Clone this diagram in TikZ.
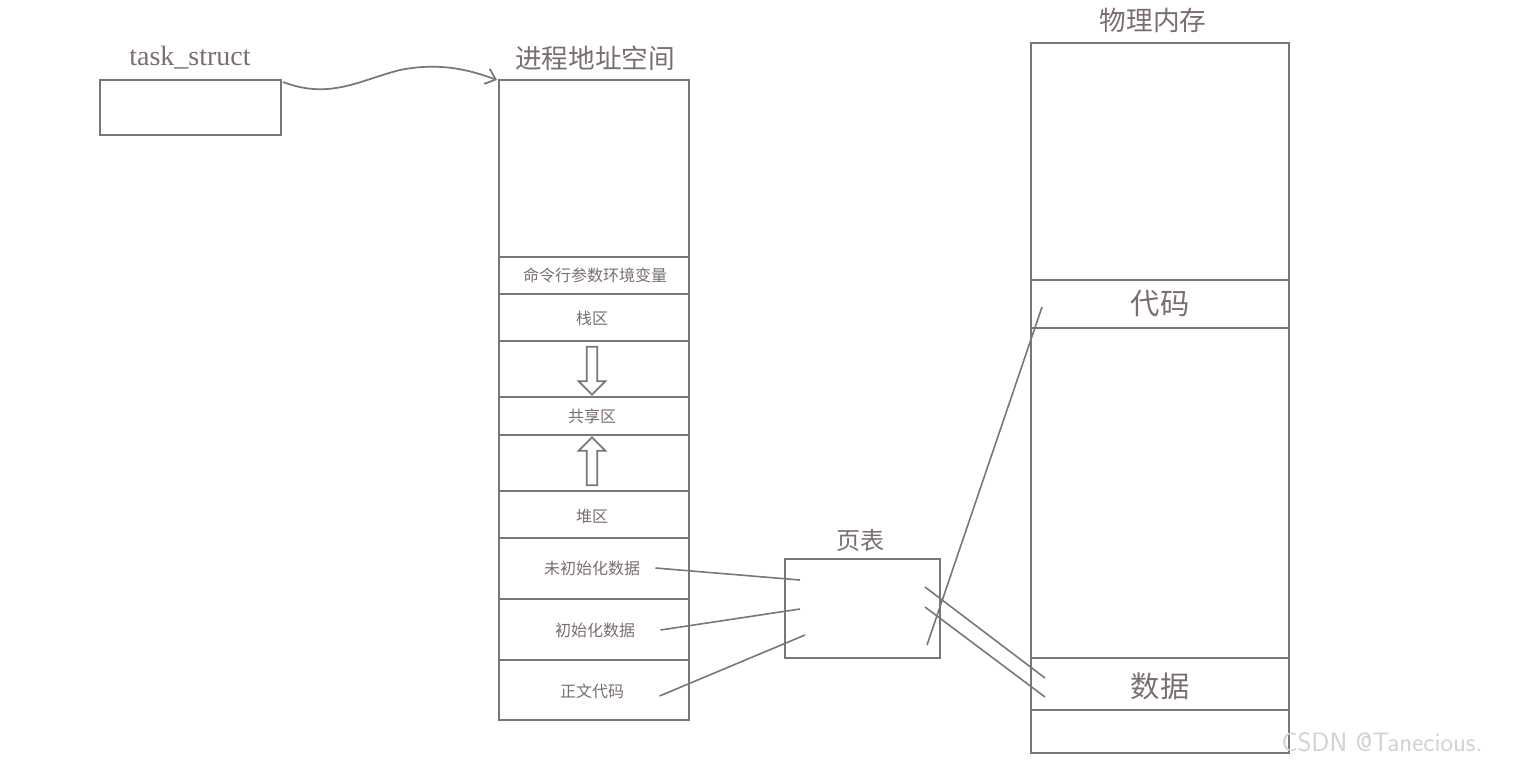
\documentclass[tikz,border=0pt]{standalone}
\usepackage{fontspec}
\newfontfamily\cjk{Noto Sans CJK SC}
\setmainfont{Liberation Serif}
\usetikzlibrary{arrows.meta,shapes.arrows}
\definecolor{ln}{HTML}{777777}
\definecolor{tx}{HTML}{7A6E6E}
\begin{document}
\begin{tikzpicture}[x=0.75pt,y=-0.75pt,line width=1.6pt,
  bx/.style={draw=ln},
  lbl/.style={text=tx,font=\cjk\fontsize{12}{12}\selectfont},
  big/.style={text=tx,font=\cjk\fontsize{20}{20}\selectfont},
  lk/.style={draw=ln,line width=1.2pt},
  harrow/.style={draw=ln,line width=1.3pt,fill=white,single arrow,minimum height=36pt,single arrow head extend=4pt,minimum width=20pt,inner sep=2pt}]
\useasboundingbox (0,0) rectangle (1513,768);
% task_struct
\node[text=tx,font=\fontsize{21}{21}\selectfont] (tsl) at (190,58) {task\_struct};
\node[bx,minimum width=136pt,minimum height=41pt,inner sep=0] (ts) at (190.5,107.5) {};
\coordinate (tsa) at (283,82);
\coordinate (vaa) at (497,80);
\draw[ln,line width=1.3pt,-{Straight Barb[length=7pt,width=12pt]}] (tsa) .. controls (330,100) and (360,80) .. (400,70) .. controls (440,62) and (470,70) .. (vaa);
% virtual space
\node[big] (vat) at (595,58) {进程地址空间};
\draw[ln] (499,80) rectangle (689,720);
\foreach \y in {257,294,341,397,435,491,538,599,660} \draw[ln] (499,\y) -- (689,\y);
\node[lbl] (a1) at (595,275) {命令行参数环境变量};
\node[lbl] (a2) at (592,318) {栈区};
\node[lbl] (a3) at (592,416) {共享区};
\node[lbl] (a4) at (592,516) {堆区};
\node[lbl] (a5) at (592,568) {未初始化数据};
\node[lbl] (a6) at (595,630) {初始化数据};
\node[lbl] (a7) at (592,691) {正文代码};
\node[harrow,rotate=-90] (dn) at (592,368) {};
\node[harrow,rotate=90] (up) at (592,464) {};
% page table
\node[big,font=\cjk\fontsize{18}{18}\selectfont] (ptl) at (860,540) {页表};
\node[bx,minimum width=116pt,minimum height=74pt,inner sep=0] (pt) at (862.5,608.5) {};
% physical
\node[big] (pmt) at (1153,20) {物理内存};
\draw[ln] (1031,43) rectangle (1289,753);
\foreach \y in {280,328,658,710} \draw[ln] (1031,\y) -- (1289,\y);
\node[big,font=\cjk\fontsize{22}{22}\selectfont] (code) at (1160,304) {代码};
\node[big,font=\cjk\fontsize{22}{22}\selectfont] (data) at (1160,686) {数据};
% links
\coordinate (p1) at (800,580); \coordinate (p2) at (800,609); \coordinate (p3) at (805,635);
\coordinate (q0) at (927,645); \coordinate (q1) at (925,587); \coordinate (q2) at (925,607);
\coordinate (c1) at (1042,307); \coordinate (d1) at (1045,678); \coordinate (d2) at (1045,697);
\draw[lk] (a5.east)++(10,0) -- (p1);
\draw[lk] (a6.east)++(20,0) -- (p2);
\draw[lk] (a7.east)++(30,5) -- (p3);
\draw[lk] (q0) -- (c1);
\draw[lk] (q1) -- (d1);
\draw[lk] (q2) -- (d2);
\node[text=gray!35,font=\fontsize{20}{20}\selectfont\sffamily] (wm) at (1382,742) {CSDN @Tanecious.};
\end{tikzpicture}
\end{document}
